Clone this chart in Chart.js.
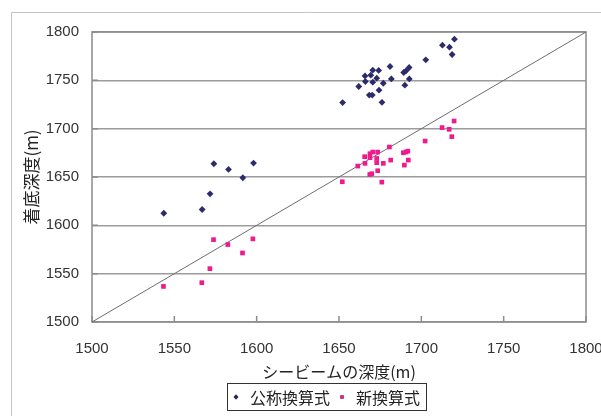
<!DOCTYPE html>
<html>
<head>
<meta charset="utf-8">
<script src="https://cdn.jsdelivr.net/npm/chart.js@4.4.0/dist/chart.umd.min.js"></script>
<style>
  html, body { margin: 0; padding: 0; background: #fff; }
  canvas { display: block; }
</style>
</head>
<body>
<canvas id="myChart" width="601" height="416"></canvas>
<script>
// axis ticks
var tickValues = [1500, 1550, 1600, 1650, 1700, 1750, 1800];

// 公称換算式 (x: シービームの深度, y: 着底深度)
var koshoX = [1543.6, 1566.9, 1571.7, 1574.0, 1582.9, 1591.6, 1598.1,
    1720.1, 1712.8, 1717.1, 1718.7, 1702.7, 1681.0, 1670.5, 1674.1, 1665.8,
    1669.3, 1689.3, 1690.7, 1692.6, 1672.9, 1666.0, 1670.5, 1681.8, 1692.7,
    1662.0, 1676.9, 1690.0, 1674.3, 1668.4, 1670.2, 1652.2, 1676.1];
var koshoY = [1612.5, 1616.4, 1632.6, 1663.7, 1657.8, 1649.2, 1664.4,
    1792.6, 1786.4, 1784.3, 1776.7, 1771.2, 1764.3, 1760.5, 1760.2, 1754.6,
    1755.3, 1758.1, 1759.8, 1763.3, 1752.2, 1748.8, 1748.1, 1751.5, 1751.5,
    1743.6, 1747.0, 1745.0, 1739.8, 1734.7, 1734.7, 1727.0, 1727.3];

// 新換算式
var shinX = [1543.4, 1566.7, 1571.6, 1573.8, 1582.5, 1591.4, 1597.7,
    1719.9, 1712.6, 1716.9, 1718.5, 1702.3, 1652.0, 1676.0, 1668.7, 1669.9,
    1673.5, 1661.4, 1665.8, 1665.6, 1668.8, 1670.5, 1673.5, 1668.8, 1672.9,
    1672.9, 1676.9, 1681.4, 1680.6, 1689.1, 1690.7, 1691.8, 1692.1, 1689.7];
var shinY = [1536.8, 1540.7, 1555.2, 1585.2, 1580.1, 1571.4, 1586.0,
    1707.9, 1701.1, 1699.3, 1691.7, 1687.2, 1645.1, 1644.7, 1652.6, 1653.4,
    1656.5, 1661.3, 1664.1, 1671.0, 1674.1, 1675.8, 1675.8, 1670.0, 1669.2,
    1664.8, 1664.1, 1667.5, 1681.0, 1675.1, 1675.8, 1676.8, 1667.5, 1662.3];

// y = x reference line
var lineX = [1500, 1800];
var lineY = [1500, 1800];

function toPoints(xs, ys) {
    return xs.map(function(x, i) { return {x: x, y: ys[i]}; });
}

var FONT = "'Liberation Sans', 'Noto Sans CJK JP', Arial, sans-serif";
var JFONT = "'Noto Sans CJK JP', 'Liberation Sans', sans-serif";

// outer border, plot frame, inner tick marks, boxed legend
var framePlugin = {
    id: 'frame',
    beforeDraw: function(chart) {
        var ctx = chart.ctx;
        ctx.save();
        ctx.strokeStyle = '#c4c4c4';
        ctx.lineWidth = 1;
        ctx.beginPath();
        ctx.moveTo(11.5, 416);
        ctx.lineTo(11.5, 12.5);
        ctx.lineTo(601, 12.5);
        ctx.stroke();
        ctx.restore();
    },
    beforeDatasetsDraw: function(chart) {
        var ctx = chart.ctx, a = chart.chartArea;
        var xs = chart.scales.x, ys = chart.scales.y;
        ctx.save();
        ctx.strokeStyle = '#8c8c8c';
        ctx.lineWidth = 1.5;
        ctx.strokeRect(a.left, a.top, a.right - a.left, a.bottom - a.top);
        ctx.beginPath();
        tickValues.forEach(function(v) {
            var px = xs.getPixelForValue(v);
            ctx.moveTo(px, a.bottom);
            ctx.lineTo(px, a.bottom - 6);
            var py = ys.getPixelForValue(v);
            ctx.moveTo(a.left, py);
            ctx.lineTo(a.left + 6, py);
        });
        ctx.stroke();
        ctx.restore();
    },
    afterDraw: function(chart) {
        var ctx = chart.ctx;
        var cy = 397;
        var x = 227;
        ctx.save();
        ctx.font = '16px ' + JFONT;
        ctx.textBaseline = 'middle';
        ctx.fillStyle = '#222';
        var x0 = x;
        x += 9;
        [0, 1].forEach(function(i) {
            var ds = chart.data.datasets[i];
            Chart.helpers.drawPoint(ctx, {
                pointStyle: ds.pointStyle,
                radius: ds.pointRadius * 0.7,
                borderWidth: 0,
                rotation: 0
            }, x, cy);
            ctx.fillStyle = ds.backgroundColor;
            ctx.fill();
            ctx.fillStyle = '#222';
            ctx.fillText(ds.label, x + 14, cy + 1);
            x += 14 + ctx.measureText(ds.label).width + 12;
        });
        x -= 6;
        ctx.strokeStyle = '#333';
        ctx.lineWidth = 1;
        ctx.strokeRect(x0 + 0.5, 383.5, Math.round(x - x0), 27);
        ctx.restore();
    }
};

function plainTick(value) { return String(value); }

var ctx = document.getElementById('myChart').getContext('2d');
var myChart = new Chart(ctx, {
    type: 'scatter',
    data: {
        datasets: [{
            label: '公称換算式',
            data: toPoints(koshoX, koshoY),
            pointStyle: 'rectRot',
            pointRadius: 3.4,
            backgroundColor: '#2d2b6b',
            borderColor: '#2d2b6b',
            borderWidth: 0
        }, {
            label: '新換算式',
            data: toPoints(shinX, shinY),
            pointStyle: 'rect',
            pointRadius: 3.3,
            backgroundColor: '#ee1a8e',
            borderColor: '#ee1a8e',
            borderWidth: 0
        }, {
            label: 'y=x',
            type: 'line',
            data: toPoints(lineX, lineY),
            borderColor: '#6e6e6e',
            borderWidth: 1,
            pointRadius: 0,
            fill: false
        }]
    },
    options: {
        responsive: false,
        animation: false,
        layout: {
            padding: {left: 11, top: 32, right: 15, bottom: 36}
        },
        plugins: {
            legend: {display: false},
            tooltip: {enabled: false}
        },
        scales: {
            x: {
                type: 'linear',
                min: 1500,
                max: 1800,
                afterFit: function(s) {
                    s.height = 58;
                    s.paddingLeft = 0;
                    s.paddingRight = 0;
                },
                afterBuildTicks: function(s) {
                    s.ticks = tickValues.map(function(v) { return {value: v}; });
                },
                grid: {display: false, drawTicks: false},
                border: {display: false},
                ticks: {
                    padding: 18,
                    maxRotation: 0,
                    autoSkip: false,
                    callback: plainTick,
                    color: '#333',
                    font: {family: FONT, size: 15}
                },
                title: {
                    display: true,
                    text: 'シービームの深度(m)',
                    color: '#222',
                    padding: {top: 0, bottom: 0},
                    font: {family: JFONT, size: 16, lineHeight: 1}
                }
            },
            y: {
                type: 'linear',
                min: 1500,
                max: 1800,
                afterFit: function(s) {
                    s.width = 81;
                    s.paddingTop = 0;
                    s.paddingBottom = 0;
                },
                afterBuildTicks: function(s) {
                    s.ticks = tickValues.map(function(v) { return {value: v}; });
                },
                grid: {color: '#9c9c9c', lineWidth: 1.5, drawTicks: false},
                border: {display: false},
                ticks: {
                    padding: 13,
                    autoSkip: false,
                    callback: plainTick,
                    color: '#333',
                    font: {family: FONT, size: 15}
                },
                title: {
                    display: true,
                    text: '着底深度(m)',
                    color: '#222',
                    padding: {top: 10, bottom: 0},
                    font: {family: JFONT, size: 17, lineHeight: 1.2}
                }
            }
        }
    },
    plugins: [framePlugin]
});
</script>
</body>
</html>
